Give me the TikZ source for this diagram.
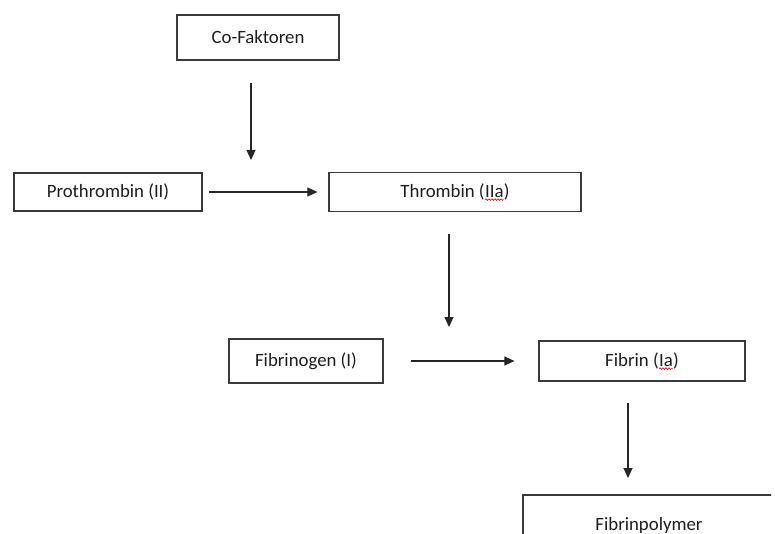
\documentclass[tikz,border=0pt]{standalone}
\usepackage{fontspec}
\setmainfont{Carlito}
\usetikzlibrary{arrows.meta,decorations.pathmorphing}
\definecolor{txt}{HTML}{1E1E1E}
\definecolor{edge}{HTML}{3A3A3A}
\newcommand\squig[1]{\tikz[baseline=(sq.base)]{\node[inner sep=0pt,outer sep=0pt,draw=none,minimum width=0pt,minimum height=0pt](sq){#1};\draw[red!85!black,line width=0.6pt,decorate,decoration={snake,amplitude=0.8pt,segment length=3pt}]([yshift=-2.5pt]sq.base west)--([yshift=-2.5pt]sq.base east);}}
\tikzset{
  box/.style={draw=edge,line width=1.2pt,fill=white,text=txt,inner sep=0pt,font=\fontsize{18.8}{22}\selectfont},
  arr/.style={draw=black!85,line width=1.1pt,-{Triangle[length=10pt,width=9pt]}}
}
\begin{document}
\begin{tikzpicture}[x=1pt,y=-1pt]
\useasboundingbox (0,0) rectangle (775,534);
\clip (0,0) rectangle (771,534);
\node[box,minimum width=162pt,minimum height=45pt] (cof) at (258,37.5) {Co-Faktoren};
\node[box,minimum width=188pt,minimum height=38pt] (pro) at (108,192) {Prothrombin (II)};
\node[box,minimum width=252pt,minimum height=39pt] (thr) at (455,192) {Thrombin (\squig{IIa})};
\node[box,minimum width=154pt,minimum height=44pt] (fbg) at (306,361) {Fibrinogen (I)};
\node[box,minimum width=206pt,minimum height=40pt] (fib) at (642,361) {Fibrin (\squig{Ia})};
\node[box,minimum width=252pt,minimum height=60pt] (pol) at (649,525) {Fibrinpolymer};
\coordinate (a1e) at (251,160);
\coordinate (a3e) at (449,327);
\coordinate (a5e) at (628,478);
\draw[arr] ([shift={(-7pt,-22pt)}]cof.south) -- (a1e);
\draw[arr] ([xshift=6pt]pro.east) -- ([xshift=-11pt]thr.west);
\draw[arr] ([shift={(-6pt,-21.5pt)}]thr.south) -- (a3e);
\draw[arr] ([xshift=27pt]fbg.east) -- ([xshift=-24pt]fib.west);
\draw[arr] ([shift={(-14pt,-21pt)}]fib.south) -- (a5e);
\end{tikzpicture}
\end{document}
